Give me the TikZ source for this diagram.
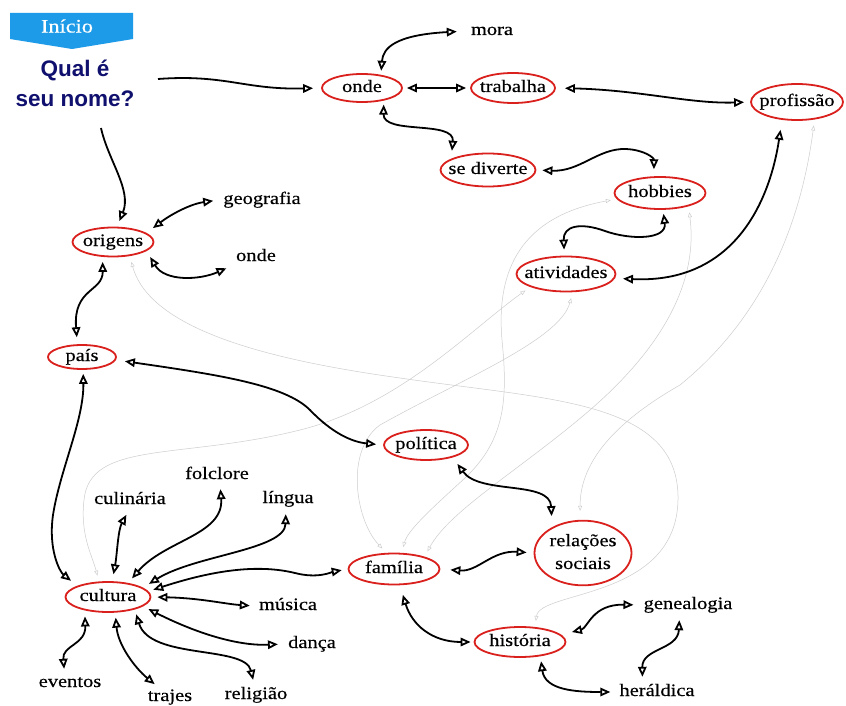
\documentclass[tikz,border=0pt]{standalone}
\usepackage{fontspec}
\usetikzlibrary{arrows.meta,shapes.geometric}
\newfontfamily\nodefont[FakeStretch=1.17,FakeBold=0.35]{Liberation Serif}
\newfontfamily\qfont{Liberation Sans}
\definecolor{nred}{RGB}{218,32,28}
\definecolor{navy}{RGB}{16,16,110}
\definecolor{bannerblue}{RGB}{30,155,232}
\definecolor{faintgray}{RGB}{205,205,205}
\newcommand{\zw}[1]{\makebox[0pt]{#1}}
\begin{document}
\begin{tikzpicture}[x=1pt,y=-1pt,
  bubbase/.style={ellipse, draw=nred, line width=1.8pt, inner sep=0pt, font=\nodefont\fontsize{17.5}{18}\selectfont},
  bub/.style={bubbase, text height=12pt, text depth=4pt},
  lbl/.style={inner sep=4pt, text height=12pt, text depth=4pt, font=\nodefont\fontsize{17.5}{18}\selectfont},
  link/.style={line width=1.8pt, {Triangle[open,length=10pt,width=8.5pt]}-{Triangle[open,length=10pt,width=8.5pt]}, shorten <=4pt, shorten >=4pt},
  onelink/.style={line width=1.8pt, -{Triangle[open,length=10pt,width=8.5pt]}, shorten >=4pt},
  faint/.style={draw=faintgray, line width=0.5pt, {Triangle[open,length=5pt,width=4pt]}-{Triangle[open,length=5pt,width=4pt]}, shorten <=6pt, shorten >=6pt}
]
\useasboundingbox (0,0) rectangle (846,706);
\fill[white] (0,0) rectangle (846,706);

% banner and question
\fill[bannerblue] (10,13) -- (133,13) -- (133,39) -- (72,49) -- (10,39) -- cycle;
\node[font=\nodefont\fontsize{19}{19}\selectfont, text=white, inner sep=0pt] (inicio) at (67,26) {Início};
\node[align=center, text=navy, inner sep=0pt, font=\qfont\bfseries\fontsize{22.5}{30}\selectfont] (qual) at (75,83) {Qual é\\seu nome?};
\coordinate (qs) at (158,79);
\coordinate (qo) at (101,128);

% ellipse nodes
\node[bub, minimum width=80pt, minimum height=28pt] (onde) at (362,88) {\zw{onde}};
\node[bub, minimum width=84pt, minimum height=30pt] (trab) at (513,88) {\zw{trabalha}};
\node[bub, minimum width=92pt, minimum height=36pt] (prof) at (797,102) {\zw{profissão}};
\node[bub, minimum width=95pt, minimum height=33pt] (sed) at (488,170) {\zw{se diverte}};
\node[bub, minimum width=91pt, minimum height=32pt] (hob) at (660,193) {\zw{hobbies}};
\node[bub, minimum width=99pt, minimum height=35pt] (atv) at (566,274) {\zw{atividades}};
\node[bub, minimum width=81pt, minimum height=29pt] (org) at (113,242) {\zw{origens}};
\node[bub, minimum width=68pt, minimum height=24pt] (pais) at (82,357) {\zw{país}};
\node[bub, minimum width=84pt, minimum height=30pt] (pol) at (426,445) {\zw{política}};
\node[bubbase, minimum width=97pt, minimum height=52pt] (rel) at (583,553) {\zw{\renewcommand{\arraystretch}{1.27}\begin{tabular}{@{}c@{}}relações\\sociais\end{tabular}}};
\node[bub, minimum width=91pt, minimum height=31pt] (fam) at (394,569) {\zw{família}};
\node[bub, minimum width=91pt, minimum height=30pt] (hist) at (520,642) {\zw{história}};
\node[bub, minimum width=85pt, minimum height=30pt] (cult) at (108,597) {\zw{cultura}};

% text labels
\node[lbl] (mora) at (492,31) {mora};
\node[lbl] (geo) at (262,200) {geografia};
\node[lbl] (onde2) at (256,257) {onde};
\node[lbl] (folc) at (217,475) {folclore};
\node[lbl] (culin) at (130,500) {culinária};
\node[lbl] (lingua) at (288,499) {língua};
\node[lbl] (mus) at (288,606) {música};
\node[lbl] (danca) at (312,644) {dança};
\node[lbl] (relig) at (256,695) {religião};
\node[lbl] (trajes) at (170,697) {trajes};
\node[lbl] (evt) at (70,683) {eventos};
\node[lbl] (gen) at (688,605) {genealogia};
\node[lbl] (her) at (657,692) {heráldica};

% faint cross links
\draw[faint] (org.-40) .. controls (150,330) and (270,360) .. (400,378) .. controls (550,400) and (680,400) .. (678,500) .. controls (676,600) and (540,590) .. (hist.45);
\draw[faint] (atv.-160) .. controls (470,330) and (400,405) .. (300,430) .. controls (180,460) and (90,440) .. (84,500) .. controls (80,535) and (92,555) .. (cult.120);
\draw[faint] (atv.-70) .. controls (560,340) and (460,380) .. (380,425) .. controls (345,450) and (355,520) .. (fam.115);
\draw[faint] (hob.188) .. controls (530,215) and (495,260) .. (502,340) .. controls (508,400) and (505,440) .. (465,478) .. controls (430,510) and (408,530) .. (fam.65);
\draw[faint] (hob.-25) .. controls (698,280) and (665,345) .. (590,410) .. controls (520,470) and (450,510) .. (fam.22);
\draw[faint, shorten >=9pt] (prof.-45) .. controls (800,230) and (760,320) .. (680,385) .. controls (610,425) and (580,465) .. (rel.95);

% black links
\draw[onelink, shorten >=8pt] (qs) .. controls (225,74) and (245,90) .. (onde.west);
\draw[onelink, shorten >=6pt] (qo) .. controls (108,160) and (132,190) .. (org.75);
\draw[link, shorten >=10pt] (onde.35) .. controls (383,48) and (395,35) .. (mora.west);
\draw[link] (onde.east) -- (trab.west);
\draw[link, shorten <=9pt, shorten >=6pt] (trab.east) .. controls (640,90) and (690,104) .. (prof.west);
\draw[link, shorten >=8pt] (onde.-30) .. controls (383,135) and (455,120) .. (sed.163);
\draw[link, shorten <=6pt, shorten >=7pt] (sed.east) .. controls (580,172) and (598,148) .. (626,149) .. controls (645,150) and (654,158) .. (hob.110);
\draw[link, shorten >=6pt] (hob.-80) .. controls (667,240) and (630,240) .. (605,231) .. controls (580,222) and (563,226) .. (atv.95);
\draw[link, shorten <=8pt, shorten >=10pt] (atv.-5) .. controls (735,284) and (770,200) .. (prof.-130);
\draw[link, shorten <=8pt, shorten >=6pt] (org.15) .. controls (170,215) and (190,204) .. (geo.west);
\draw[link, shorten <=7pt, shorten >=6pt] (org.-15) .. controls (165,282) and (200,280) .. (onde2.200);
\draw[link, shorten <=5pt, shorten >=7pt] (org.-125) .. controls (103,292) and (73,288) .. (pais.110);
\draw[link, shorten <=9pt, shorten >=7pt] (pais.-5) .. controls (220,375) and (285,385) .. (310,410) .. controls (332,433) and (352,442) .. (pol.west);
\draw[link, shorten <=4pt, shorten >=8pt] (pais.-85) .. controls (84,420) and (60,470) .. (53,515) .. controls (48,550) and (60,572) .. (cult.160);
\draw[link, shorten <=7pt, shorten >=3pt] (cult.75) .. controls (117,555) and (118,530) .. (culin.-100);
\draw[link, shorten <=6pt, shorten >=2pt] (cult.35) .. controls (165,540) and (224,535) .. (folc.-75);
\draw[link, shorten <=7pt, shorten >=3pt] (cult.15) .. controls (195,555) and (285,550) .. (lingua.-100);
\draw[link, shorten <=5pt, shorten >=6pt] (cult.8) .. controls (220,568) and (262,565) .. (295,573) .. controls (318,579) and (332,572) .. (fam.west);
\draw[link, shorten <=6pt, shorten >=5pt] (cult.east) .. controls (200,598) and (225,604) .. (mus.west);
\draw[link, shorten <=6pt, shorten >=6pt] (cult.-15) .. controls (200,635) and (240,646) .. (danca.west);
\draw[link, shorten <=5pt, shorten >=3pt] (cult.-25) .. controls (150,660) and (245,645) .. (relig.100);
\draw[link, shorten <=5pt, shorten >=1pt] (cult.-65) .. controls (118,645) and (135,668) .. (trajes.140);
\draw[link, shorten <=6pt, shorten >=2pt] (cult.-150) .. controls (86,645) and (62,645) .. (evt.115);
\draw[link, shorten <=8pt, shorten >=11pt] (pol.-25) .. controls (480,495) and (550,480) .. (rel.140);
\draw[link, shorten <=10pt, shorten >=7pt] (fam.east) .. controls (478,572) and (492,550) .. (rel.west);
\draw[link, shorten <=10pt, shorten >=3pt] (fam.-70) .. controls (412,625) and (432,642) .. (hist.west);
\draw[link, shorten <=11pt, shorten >=6pt] (hist.10) .. controls (588,628) and (592,604) .. (gen.west);
\draw[link, shorten <=3pt, shorten >=3pt] (gen.-125) .. controls (678,650) and (642,648) .. (her.140);
\draw[link, shorten <=5pt, shorten >=5pt] (hist.-35) .. controls (545,690) and (575,692) .. (her.west);
\end{tikzpicture}
\end{document}
